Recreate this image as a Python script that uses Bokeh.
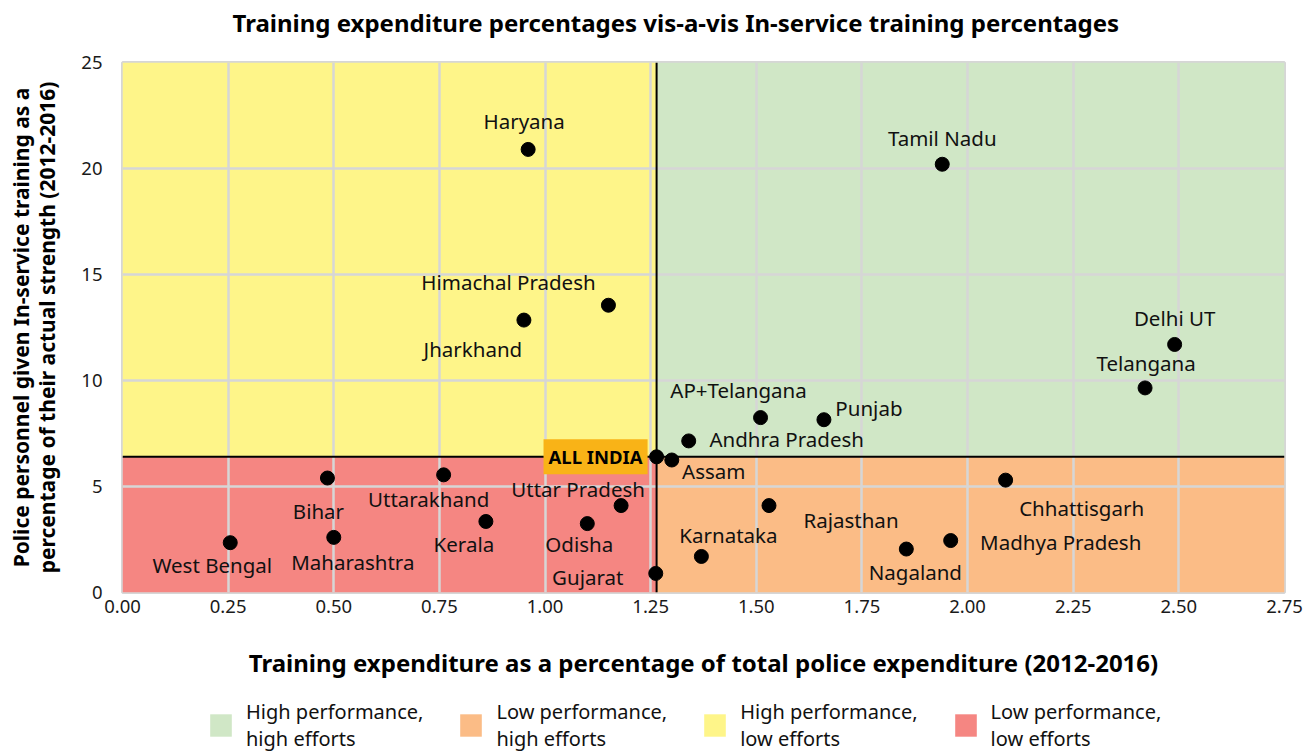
from bokeh.plotting import figure
from bokeh.layouts import column
from bokeh.models import (Range1d, FixedTicker, NumeralTickFormatter, Span, Label,
                          Legend, LegendItem, ColumnDataSource)
from bokeh.core.properties import value
from bokeh.embed import file_html
from bokeh.resources import INLINE

# ---------------- data ----------------
states = ["Haryana", "Tamil Nadu", "Himachal Pradesh", "Jharkhand", "Delhi UT", "Telangana",
          "AP+Telangana", "Punjab", "Andhra Pradesh", "Assam", "Bihar", "Uttarakhand",
          "Chhattisgarh", "Uttar Pradesh", "Rajasthan", "Kerala", "Odisha", "Maharashtra",
          "Madhya Pradesh", "West Bengal", "Nagaland", "Karnataka", "Gujarat"]
expenditure = [0.96, 1.94, 1.15, 0.95, 2.49, 2.42, 1.51, 1.66, 1.34, 1.30, 0.485, 0.76,
               2.09, 1.18, 1.53, 0.86, 1.10, 0.50, 1.96, 0.255, 1.855, 1.37, 1.262]
training = [20.9, 20.2, 13.55, 12.85, 11.7, 9.65, 8.25, 8.15, 7.15, 6.25, 5.4, 5.55,
            5.3, 4.1, 4.1, 3.35, 3.25, 2.6, 2.45, 2.35, 2.05, 1.7, 0.9]
all_india_label = "ALL INDIA"
all_india_exp = 1.264
all_india_trn = 6.4

x_ticks = [0, 0.25, 0.5, 0.75, 1.0, 1.25, 1.5, 1.75, 2.0, 2.25, 2.5, 2.75]
y_ticks = [0, 5, 10, 15, 20, 25]

quadrant_names = ["High performance,\nhigh efforts", "Low performance,\nhigh efforts",
                  "High performance,\nlow efforts", "Low performance,\nlow efforts"]

title = "Training expenditure percentages vis-a-vis In-service training percentages"
x_title = "Training expenditure as a percentage of total police expenditure (2012-2016)"
y_title = "Police personnel given In-service training as a\npercentage of their actual strength (2012-2016)"

# ---------------- styling (label offsets in screen px) ----------------
label_dx = [-4, 0, -100, -51, 0, 1, -22, 45, 98, 42, -9, -15, 76, -43, 82, -22, -8, 19, 110, -18, 9, 27, -68]
label_dy = [-28, -26, -23, 29, -26, -25, -28, -12, -2, 11, 33, 24, 28, -17, 14, 23, 20, 25, 1, 22, 23, -21, 4]

GREEN = "#D0E7C6"
ORANGE = "#FBBC86"
YELLOW = "#FEF589"
RED = "#F58682"
FONT = "Noto Sans"

X_MAX = x_ticks[-1]
Y_MAX = y_ticks[-1]

# quadrant bounds derived from the ALL INDIA point
quad_left = [all_india_exp, all_india_exp, 0, 0]
quad_right = [X_MAX, X_MAX, all_india_exp, all_india_exp]
quad_bottom = [all_india_trn, 0, all_india_trn, 0]
quad_top = [Y_MAX, all_india_trn, Y_MAX, all_india_trn]
quad_colors = [GREEN, ORANGE, YELLOW, RED]

# ---------------- header strip (title) ----------------
hd = figure(width=1305, height=50, output_backend="svg", toolbar_location=None, title=None,
            x_range=Range1d(0, 1), y_range=Range1d(0, 1), min_border=0,
            outline_line_color=None, background_fill_color="white", border_fill_color="white")
hd.axis.visible = False
hd.grid.visible = False
hd.add_layout(Label(x=110, y=28, x_units="screen", y_units="screen", text=title,
                    text_font=FONT, text_font_size="24px", text_font_style="bold",
                    text_color="black", text_align="left", text_baseline="middle"))

# ---------------- main plot ----------------
p = figure(frame_width=1162, frame_height=530, title=None,
           output_backend="svg", toolbar_location=None,
           x_range=Range1d(0, X_MAX), y_range=Range1d(0, Y_MAX),
           min_border_left=122, min_border_right=21, min_border_top=12, min_border_bottom=100,
           background_fill_color="white", border_fill_color="white")

# quadrants
p.quad(left=quad_left, right=quad_right, bottom=quad_bottom, top=quad_top,
       fill_color=quad_colors, line_color=None, level="image")

# grid
for g in (p.xgrid, p.ygrid):
    g.grid_line_color = "#D6D6D6"
    g.grid_line_width = 2.5
p.xgrid.ticker = FixedTicker(ticks=x_ticks)
p.ygrid.ticker = FixedTicker(ticks=y_ticks)

p.outline_line_color = "#D6D6D6"
p.outline_line_width = 3

# dividers
p.add_layout(Span(location=all_india_exp, dimension="height", line_color="black", line_width=2))
p.add_layout(Span(location=all_india_trn, dimension="width", line_color="black", line_width=2))

# axes
p.xaxis.ticker = FixedTicker(ticks=x_ticks)
p.yaxis.ticker = FixedTicker(ticks=y_ticks)
p.xaxis.formatter = NumeralTickFormatter(format="0.00")
for ax in (p.xaxis, p.yaxis):
    ax.axis_line_color = None
    ax.major_tick_line_color = None
    ax.minor_tick_line_color = None
    ax.major_label_text_font = FONT
    ax.major_label_text_font_size = "18.5px"
    ax.major_label_text_color = "#1a1a1a"
    ax.axis_label_text_font = FONT
    ax.axis_label_text_font_style = "bold"
    ax.axis_label_text_color = "black"
p.xaxis.axis_label_text_font_size = "24px"
p.yaxis.axis_label_text_font_size = "21px"
p.yaxis.axis_label_text_line_height = 0.95
p.xaxis.axis_label = x_title
p.yaxis.axis_label = y_title
p.xaxis.major_label_standoff = 1
p.xaxis.axis_label_standoff = 30
p.yaxis.major_label_standoff = 14
p.yaxis.axis_label_standoff = 17

# points
src = ColumnDataSource(dict(x=expenditure, y=training, name=states, dx=label_dx, dy=label_dy))
p.scatter("x", "y", source=src, size=14, color="black")
p.scatter([all_india_exp], [all_india_trn], size=14, color="black")
p.text("x", "y", text="name", source=src, x_offset="dx", y_offset="dy",
       text_align="center", text_baseline="middle", text_font=value(FONT),
       text_font_size="20.5px", text_color="#111111")

p.add_layout(Label(x=all_india_exp, y=all_india_trn, text=all_india_label, x_offset=-9,
                   text_align="right", text_baseline="middle", text_font=FONT,
                   text_font_size="18.5px", text_font_style="bold", text_color="black",
                   background_fill_color="#F9B317", padding=5))

# ---------------- legend strip ----------------
# the legend figure views a region away from the quadrant data, so only the legend shows
lg = figure(width=1305, height=60, output_backend="svg", toolbar_location=None, title=None,
            x_range=Range1d(-2, -1), y_range=Range1d(-2, -1), min_border=0,
            outline_line_color=None, background_fill_color="white", border_fill_color="white")
lg.axis.visible = False
lg.grid.visible = False
items = []
for i, name in enumerate(quadrant_names):
    r = lg.quad(left=[quad_left[i]], right=[quad_right[i]], top=[quad_top[i]],
                bottom=[quad_bottom[i]], fill_color=quad_colors[i], line_color=None)
    items.append(LegendItem(label=name, renderers=[r]))
legend = Legend(items=items, orientation="horizontal", location=(85, 0),
                glyph_width=27, glyph_height=28, label_standoff=12, spacing=34,
                label_text_font=FONT, label_text_font_size="20px", label_text_line_height=1.1,
                label_text_color="#111111",
                border_line_color=None, background_fill_alpha=0, padding=0, margin=0)
lg.add_layout(legend, "center")

open("out.html", "w").write(file_html(column(hd, p, lg), INLINE))
